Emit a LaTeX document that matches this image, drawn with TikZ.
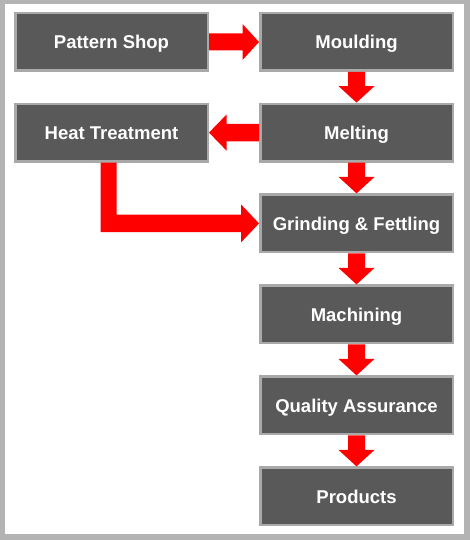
\documentclass[tikz,border=0pt]{standalone}
\usepackage{fontspec}
\setmainfont{Liberation Sans}
\usetikzlibrary{calc}
\definecolor{boxfill}{HTML}{595959}
\definecolor{boxline}{HTML}{A9A9A9}
\definecolor{frame}{HTML}{B3B3B3}
\definecolor{arrred}{HTML}{FF0000}
\tikzset{
  stepbox/.style={draw=boxline, line width=2.5pt, fill=boxfill, text=white,
    font=\fontsize{18.5pt}{22pt}\selectfont\bfseries,
    text height=13.25pt, text depth=0pt,
    minimum width=192.5pt, minimum height=57.5pt, inner sep=0pt},
  arr/.style={fill=arrred}
}
% vertical block arrow from #1 (above) to #2 (below)
\newcommand\blkdown[2]{%
  \fill[arr] let \p1=(#1.south), \p2=(#2.north) in
    (\x1-8.5pt,\y1) -- (\x1+8.5pt,\y1) -- (\x1+8.5pt,\y2+16.5pt) --
    (\x1+18pt,\y2+16.5pt) -- (\x1,\y2) -- (\x1-18pt,\y2+16.5pt) --
    (\x1-8.5pt,\y2+16.5pt) -- cycle;}
\begin{document}
\begin{tikzpicture}[x=1pt,y=-1pt]
  \fill[frame] (0,0) rectangle (470,540);
  \fill[white] (4.5,4.5) rectangle (464,534);
  \useasboundingbox (0,0) rectangle (470,540);

  \node[stepbox] (pattern) at (111.5,42) {Pattern Shop};
  \node[stepbox] (heat) at (111.5,132.6) {Heat Treatment};
  \node[stepbox] (mould) at (356.5,42) {Moulding};
  \node[stepbox] (melt) at (356.5,132.6) {Melting};
  \node[stepbox] (grind) at (356.5,223.4) {Grinding \& Fettling};
  \node[stepbox] (mach) at (356.5,314.4) {Machining};
  \node[stepbox] (qa) at (356.5,405.4) {Quality Assurance};
  \node[stepbox] (prod) at (356.5,496.4) {Products};

  % Pattern Shop -> Moulding
  \fill[arr] let \p1=(pattern.east), \p2=(mould.west) in
    (\x1,\y1+8.5pt) -- (\x2-16.5pt,\y1+8.5pt) -- (\x2-16.5pt,\y1+18pt) --
    (\x2,\y1) -- (\x2-16.5pt,\y1-18pt) -- (\x2-16.5pt,\y1-8.5pt) --
    (\x1,\y1-8.5pt) -- cycle;
  % Melting -> Heat Treatment
  \fill[arr] let \p1=(melt.west), \p2=(heat.east) in
    (\x1,\y1+8.8pt) -- (\x2+17.5pt,\y1+8.8pt) -- (\x2+17.5pt,\y1+18pt) --
    (\x2,\y1) -- (\x2+17.5pt,\y1-18pt) -- (\x2+17.5pt,\y1-8.8pt) --
    (\x1,\y1-8.8pt) -- cycle;
  % Heat Treatment -> Grinding (L-shaped)
  \fill[arr] let \p1=(heat.south), \p2=(grind.west) in
    (\x1-10.8pt,\y1) -- (\x1+5.2pt,\y1) -- (\x1+5.2pt,\y2+8.75pt) --
    (\x2-18pt,\y2+8.75pt) -- (\x2-18pt,\y2+19pt) -- (\x2,\y2) --
    (\x2-18pt,\y2-19pt) -- (\x2-18pt,\y2-8.75pt) --
    (\x1-10.8pt,\y2-8.75pt) -- cycle;

  \blkdown{mould}{melt}
  \blkdown{melt}{grind}
  \blkdown{grind}{mach}
  \blkdown{mach}{qa}
  \blkdown{qa}{prod}
\end{tikzpicture}
\end{document}
